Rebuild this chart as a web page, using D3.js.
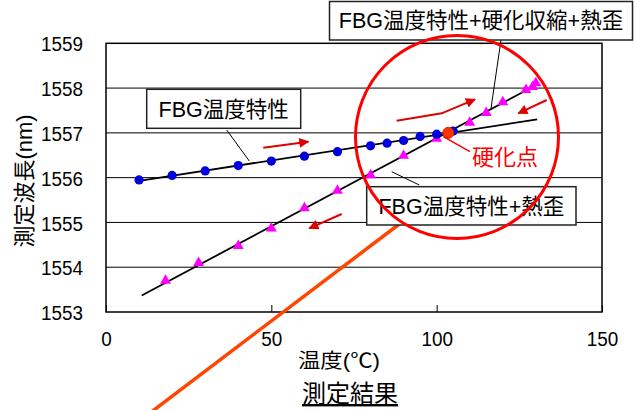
<!DOCTYPE html>
<html>
<head>
<meta charset="utf-8">
<script src="https://cdn.jsdelivr.net/npm/d3@7"></script>
<style>
  html, body { margin: 0; padding: 0; background: #fff; }
  svg { display: block; }
  text { font-family: "Liberation Sans", "Noto Sans CJK JP", sans-serif; fill: #000; }
</style>
</head>
<body>
<svg id="chart" width="635" height="410"></svg>
<script>
// Measured wavelength vs. temperature
// FBG temperature characteristic (blue circles)
const tempX = [10, 20, 30, 40, 50, 60, 70, 80, 85, 90, 95, 100, 105];
const tempY = [1555.95, 1556.05, 1556.15, 1556.27, 1556.37, 1556.48, 1556.58, 1556.71, 1556.77, 1556.83, 1556.92, 1556.97, 1557.04];

// FBG temperature characteristic + curing shrinkage + thermal strain (magenta triangles)
const strainX = [18, 28, 40, 50, 60, 70, 80, 90, 100, 110, 115, 120, 127, 129, 130];
const strainY = [1553.70, 1554.10, 1554.48, 1554.87, 1555.32, 1555.71, 1556.06, 1556.49, 1556.87, 1557.23, 1557.45, 1557.69, 1557.96, 1558.03, 1558.11];

// Fitted lines (end points)
const fitTempX = [10, 130.4];
const fitTempY = [1555.93, 1557.30];
const fitStrainX = [10.8, 130.4];
const fitStrainY = [1553.37, 1558.08];

// Curing point
const cureX = [103.5];
const cureY = [1557.0];

// Axis ticks
const xTicks = [0, 50, 100, 150];
const yTicks = [1553, 1554, 1555, 1556, 1557, 1558, 1559];

const svg = d3.select("#chart");
const plot = { left: 106, right: 602, top: 43.3, bottom: 312 };

const x = d3.scaleLinear().domain([0, 150]).range([plot.left, plot.right]);
const y = d3.scaleLinear().domain([1553, 1559]).range([plot.bottom, plot.top]);

// plot area
svg.append("rect")
  .attr("x", plot.left).attr("y", plot.top)
  .attr("width", plot.right - plot.left).attr("height", plot.bottom - plot.top)
  .attr("fill", "#fff");

// horizontal grid lines
svg.append("g")
  .selectAll("line")
  .data(yTicks.slice(1, -1))
  .join("line")
  .attr("x1", plot.left).attr("x2", plot.right)
  .attr("y1", d => y(d)).attr("y2", d => y(d))
  .attr("stroke", "#000").attr("stroke-width", 1);

// frame
svg.append("rect")
  .attr("x", plot.left).attr("y", plot.top)
  .attr("width", plot.right - plot.left).attr("height", plot.bottom - plot.top)
  .attr("fill", "none").attr("stroke", "#000").attr("stroke-width", 1.5);

// tick labels use a tall, slightly condensed figure style
const squeeze = 0.9;

// x axis (inner ticks)
const xAxis = svg.append("g")
  .attr("transform", `translate(0,${plot.bottom})`)
  .call(d3.axisBottom(x).tickValues(xTicks).tickSizeInner(-7).tickSizeOuter(0));
xAxis.select(".domain").remove();
xAxis.selectAll(".tick line").attr("stroke", "#000");
xAxis.selectAll("text")
  .attr("font-size", 21)
  .attr("font-family", "Liberation Sans, sans-serif")
  .attr("dy", null)
  .attr("y", 34)
  .attr("x", 0)
  .attr("transform", `scale(${squeeze},1)`);

// y axis labels
const yAxis = svg.append("g")
  .attr("transform", `translate(${plot.left},0)`)
  .call(d3.axisLeft(y).tickValues(yTicks).tickFormat(d3.format("d")).tickSize(0));
yAxis.select(".domain").remove();
yAxis.selectAll("text")
  .attr("font-size", 21)
  .attr("font-family", "Liberation Sans, sans-serif")
  .attr("x", -23 / squeeze)
  .attr("dy", "0.36em")
  .attr("transform", `scale(${squeeze},1)`);

// axis titles
svg.append("text")
  .attr("transform", "translate(32,181) rotate(-90)")
  .attr("text-anchor", "middle")
  .attr("font-size", 22)
  .text("測定波長(nm)");

svg.append("text")
  .attr("x", 298).attr("y", 368)
  .attr("font-size", 20)
  .attr("textLength", 82)
  .attr("lengthAdjust", "spacingAndGlyphs")
  .text("温度(℃)");

svg.append("text")
  .attr("x", 350).attr("y", 402)
  .attr("text-anchor", "middle")
  .attr("font-size", 24)
  .attr("text-decoration", "underline")
  .text("測定結果");

// fitted lines
const line = d3.line().x(d => x(d[0])).y(d => y(d[1]));
svg.append("path")
  .datum(d3.zip(fitTempX, fitTempY))
  .attr("d", line).attr("fill", "none").attr("stroke", "#000").attr("stroke-width", 1.8);
svg.append("path")
  .datum(d3.zip(fitStrainX, fitStrainY))
  .attr("d", line).attr("fill", "none").attr("stroke", "#000").attr("stroke-width", 1.8);

// triangle markers
svg.append("g")
  .selectAll("path")
  .data(d3.zip(strainX, strainY))
  .join("path")
  .attr("transform", d => `translate(${x(d[0])},${y(d[1])})`)
  .attr("d", d3.symbol(d3.symbolTriangle, 52))
  .attr("fill", "#ff00ff");

// circle markers
svg.append("g")
  .selectAll("circle")
  .data(d3.zip(tempX, tempY))
  .join("circle")
  .attr("cx", d => x(d[0])).attr("cy", d => y(d[1]))
  .attr("r", 4.6)
  .attr("fill", "#0000dd");

// curing point
svg.append("g")
  .selectAll("circle")
  .data(d3.zip(cureX, cureY))
  .join("circle")
  .attr("cx", d => x(d[0])).attr("cy", d => y(d[1]))
  .attr("r", 5.5)
  .attr("fill", "#ff3300").attr("stroke", "#dd2200").attr("stroke-width", 1);

// orange pointer line to the thermal-strain label
svg.append("line")
  .attr("x1", 150).attr("y1", 413).attr("x2", 402).attr("y2", 222)
  .attr("stroke", "#ff4500").attr("stroke-width", 3.5);

// callout leader lines
const leaders = [
  [226.7, 130, 249.3, 161],
  [501, 40, 491, 108.3],
  [391.7, 171.7, 419.3, 185]
];
svg.append("g").selectAll("line").data(leaders).join("line")
  .attr("x1", d => d[0]).attr("y1", d => d[1]).attr("x2", d => d[2]).attr("y2", d => d[3])
  .attr("stroke", "#000").attr("stroke-width", 1);

// callout boxes
const boxes = [
  { x: 146.7, y: 89.3, w: 154, h: 39, text: "FBG温度特性" },
  { x: 329.5, y: 1.5, w: 303, h: 38.5, text: "FBG温度特性+硬化収縮+熱歪" },
  { x: 366.7, y: 186.7, w: 209.3, h: 38.3, text: "FBG温度特性+熱歪" }
];
const bg = svg.append("g").selectAll("g").data(boxes).join("g");
bg.append("rect")
  .attr("x", d => d.x).attr("y", d => d.y).attr("width", d => d.w).attr("height", d => d.h)
  .attr("fill", "#fff").attr("stroke", "#222").attr("stroke-width", 1.5);
bg.append("text")
  .attr("x", d => d.x + d.w / 2).attr("y", d => d.y + d.h / 2)
  .attr("dy", "0.36em")
  .attr("text-anchor", "middle")
  .attr("font-size", 21.5)
  .text(d => d.text);

// highlight circle around the curing region
svg.append("circle")
  .attr("cx", 457).attr("cy", 137).attr("r", 101.5)
  .attr("fill", "none").attr("stroke", "#ff0000").attr("stroke-width", 3);

// curing point label
svg.append("line")
  .attr("x1", 443.3).attr("y1", 136.7).attr("x2", 470).attr("y2", 151.7)
  .attr("stroke", "#ff0000").attr("stroke-width", 1.5);
svg.append("text")
  .attr("x", 505).attr("y", 165)
  .attr("text-anchor", "middle")
  .attr("font-size", 22)
  .style("fill", "#ff0000")
  .text("硬化点");

// direction arrows
svg.append("defs").append("marker")
  .attr("id", "head")
  .attr("viewBox", "0 0 10 10")
  .attr("refX", 9).attr("refY", 5)
  .attr("markerUnits", "userSpaceOnUse")
  .attr("markerWidth", 11).attr("markerHeight", 10)
  .attr("orient", "auto")
  .append("path").attr("d", "M0,0 L10,5 L0,10 Z").attr("fill", "#e00000");

const arrows = [
  [[263.3, 147.7], [308.3, 141.7]],
  [[396.7, 120.7], [441.7, 113.3], [475, 99.3]],
  [[546.7, 100], [518.3, 113.3]],
  [[341.7, 214], [309.3, 228.3]]
];
svg.append("g").selectAll("path").data(arrows).join("path")
  .attr("d", d => d3.line()(d))
  .attr("fill", "none").attr("stroke", "#e00000").attr("stroke-width", 2)
  .attr("marker-end", "url(#head)");
</script>
</body>
</html>
